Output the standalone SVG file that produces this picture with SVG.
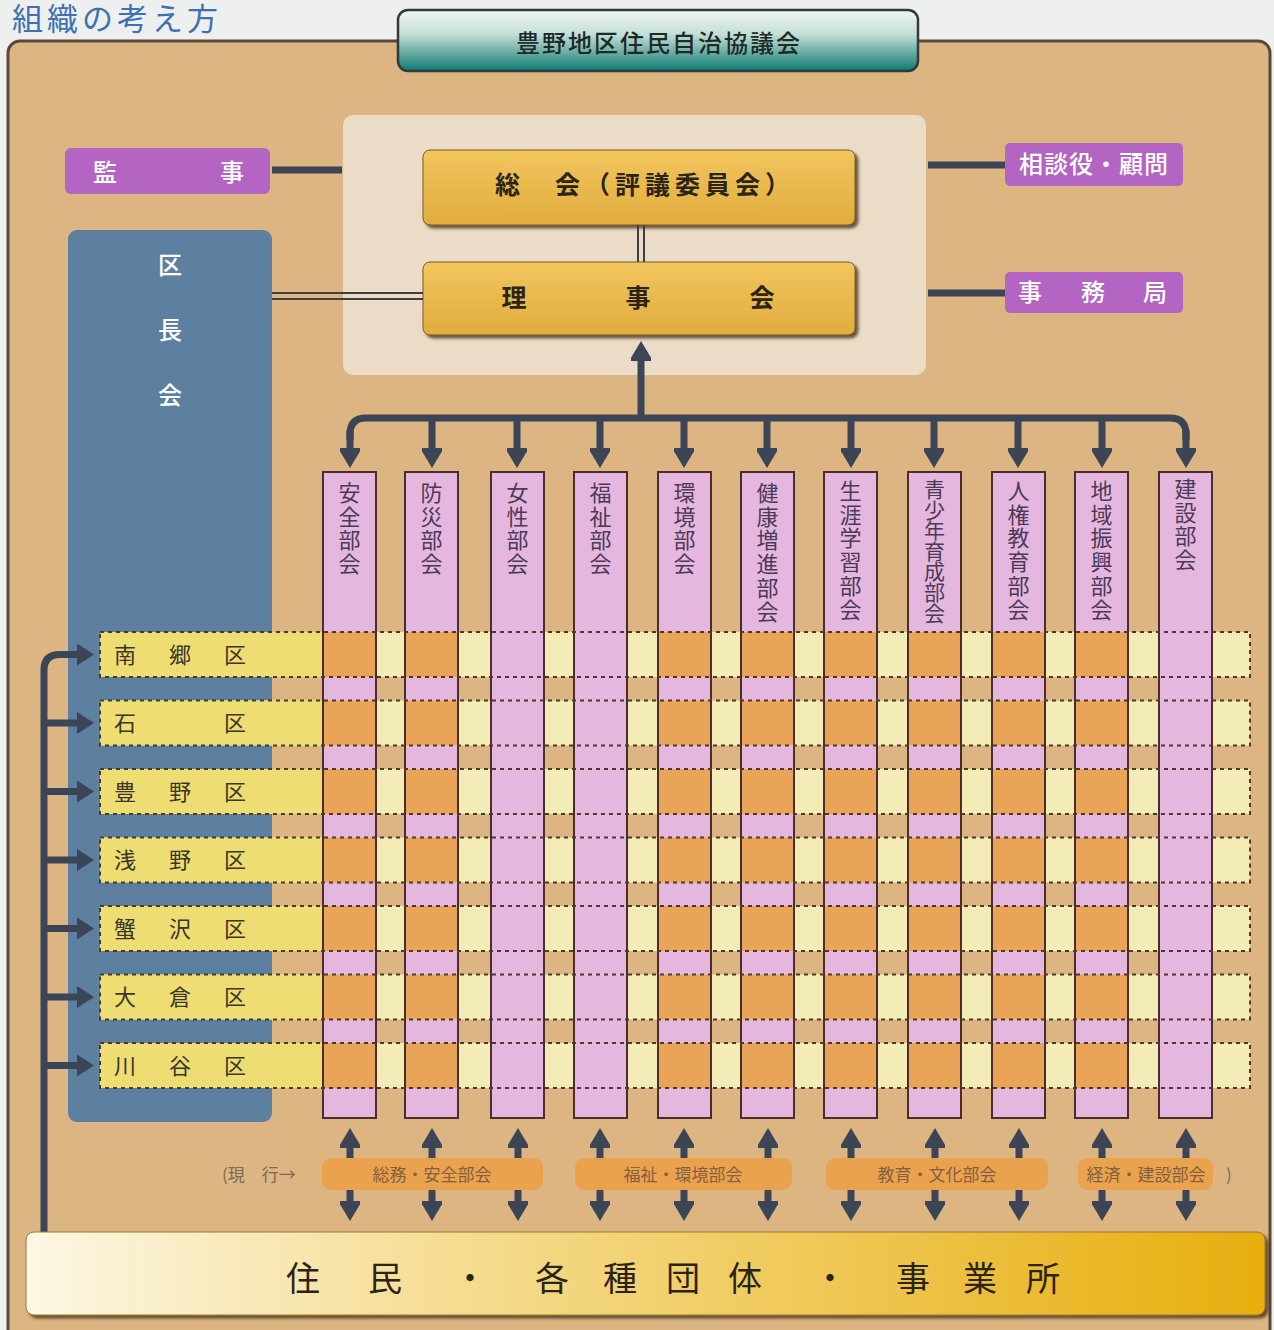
<svg xmlns="http://www.w3.org/2000/svg" width="1274" height="1330" viewBox="0 0 1274 1330">
<defs>
<style>
text{font-family:"Noto Sans CJK JP","Noto Sans CJK SC",sans-serif;}
.conn{stroke:#3b4556;fill:none;stroke-width:7;}
.dbl{stroke:#3e3e44;stroke-width:2;fill:none;}
.gold{fill:url(#goldg);stroke:#7a5a20;stroke-width:1;}
.purp{fill:#b464c3;}
.wt{fill:#ffffff;font-size:24px;font-weight:500;}
.bt{fill:#2b2418;font-size:25px;font-weight:700;}
.col{fill:#e6b7de;stroke:#4a2e2e;stroke-width:2;}
.colo{fill:none;stroke:#4a2e2e;stroke-width:2;}
.ct{fill:#4b3a58;font-size:22px;text-anchor:middle;}
.rowy{fill:#f3ecb6;}
.rowl{fill:#eedd72;}
.dash{fill:none;stroke:#4a3a2c;stroke-width:2;stroke-dasharray:4 4;}
.org{fill:#e9a458;}
.pk{fill:#e6b7de;}
.rt{fill:#3a362a;font-size:22px;text-anchor:middle;}
.pill{fill:#eba24f;}
.pt{fill:#84603f;font-size:17px;text-anchor:middle;}
</style>
<linearGradient id="goldg" x1="0" y1="0" x2="0" y2="1"><stop offset="0" stop-color="#f1c55e"/><stop offset="1" stop-color="#e2ac3e"/></linearGradient>
<linearGradient id="tealg" x1="0" y1="0" x2="0" y2="1"><stop offset="0" stop-color="#f2f6f3"/><stop offset="0.4" stop-color="#c4ded7"/><stop offset="1" stop-color="#0c7a70"/></linearGradient>
<linearGradient id="barg" x1="0" y1="0" x2="1" y2="0"><stop offset="0" stop-color="#fcf7e4"/><stop offset="0.35" stop-color="#f5dc90"/><stop offset="1" stop-color="#e8ae0e"/></linearGradient>
<filter id="sh" x="-5%" y="-20%" width="110%" height="150%"><feDropShadow dx="3" dy="3" stdDeviation="1.5" flood-color="#3a2a10" flood-opacity="0.75"/></filter>
<marker id="ah" viewBox="0 0 24 20" refX="3" refY="10" markerWidth="24" markerHeight="20" markerUnits="userSpaceOnUse" orient="auto"><path d="M0,-2 L20,10 L0,22 Z" fill="#3b4556"/></marker>
<marker id="ahs" viewBox="0 0 18 22" refX="3" refY="11" markerWidth="18" markerHeight="22" markerUnits="userSpaceOnUse" orient="auto"><path d="M0,0 L17,11 L0,22 Z" fill="#3b4556"/></marker>
<g id="rowband">
<rect x="100" y="0" width="1150" height="45" class="rowy"/>
<rect x="100" y="0" width="223" height="45" class="rowl"/>
<rect x="323" y="0" width="53" height="45" class="org"/>
<rect x="405" y="0" width="53" height="45" class="org"/>
<rect x="491" y="0" width="53" height="45" class="pk"/>
<rect x="574" y="0" width="53" height="45" class="pk"/>
<rect x="658" y="0" width="53" height="45" class="org"/>
<rect x="741" y="0" width="53" height="45" class="org"/>
<rect x="824" y="0" width="53" height="45" class="org"/>
<rect x="908" y="0" width="53" height="45" class="org"/>
<rect x="992" y="0" width="53" height="45" class="org"/>
<rect x="1075" y="0" width="53" height="45" class="org"/>
<rect x="1159" y="0" width="53" height="45" class="pk"/>
</g>
</defs>

<rect x="0" y="0" width="1274" height="1330" fill="#eef0ef"/>
<text x="12" y="30" font-size="31" fill="#3f70b3" letter-spacing="4">組織の考え方</text>

<rect x="8" y="41" width="1262" height="1310" rx="12" fill="#dcb583" stroke="#5a4838" stroke-width="3"/>

<g id="top">
<rect x="398" y="10" width="520" height="61" rx="10" fill="url(#tealg)" stroke="#33393a" stroke-width="2.5"/>
<text x="659" y="52" font-size="24" fill="#1e2a27" font-weight="500" text-anchor="middle" letter-spacing="2">豊野地区住民自治協議会</text>
</g>

<rect x="343" y="115" width="583" height="260" rx="10" fill="#ebdcc8"/>

<g id="soukai"><rect x="423" y="150" width="432" height="75" rx="7" class="gold" filter="url(#sh)"/>
<text x="495" y="194" class="bt" letter-spacing="5">総　会（評議委員会）</text></g>
<g id="rijikai"><rect x="423" y="262" width="432" height="73" rx="7" class="gold" filter="url(#sh)"/>
<text x="514 638 762" y="307" class="bt" text-anchor="middle">理事会</text></g>

<g id="kanji"><rect x="65" y="148" width="205" height="46" rx="6" class="purp"/>
<text x="105 232" y="181" class="wt" text-anchor="middle">監事</text></g>
<g id="soudan"><rect x="1005" y="143" width="178" height="43" rx="5" class="purp"/>
<text x="1094" y="173" class="wt" text-anchor="middle" letter-spacing="1">相談役・顧問</text></g>
<g id="jimukyoku"><rect x="1005" y="272" width="178" height="41" rx="5" class="purp"/>
<text x="1030 1093 1155" y="301" class="wt" text-anchor="middle">事務局</text></g>

<g id="kuchoukai"><rect x="68" y="230" width="204" height="892" rx="9" fill="#5d7fa0"/>
<text x="170" y="274" class="wt" text-anchor="middle">区</text>
<text x="170" y="339" class="wt" text-anchor="middle">長</text>
<text x="170" y="404" class="wt" text-anchor="middle">会</text></g>

<g id="columns">
<rect x="323" y="472" width="53" height="646" class="col"/>
<rect x="405" y="472" width="53" height="646" class="col"/>
<rect x="491" y="472" width="53" height="646" class="col"/>
<rect x="574" y="472" width="53" height="646" class="col"/>
<rect x="658" y="472" width="53" height="646" class="col"/>
<rect x="741" y="472" width="53" height="646" class="col"/>
<rect x="824" y="472" width="53" height="646" class="col"/>
<rect x="908" y="472" width="53" height="646" class="col"/>
<rect x="992" y="472" width="53" height="646" class="col"/>
<rect x="1075" y="472" width="53" height="646" class="col"/>
<rect x="1159" y="472" width="53" height="646" class="col"/>
<text class="ct" x="349.5 349.5 349.5 349.5" y="501 524.7 548.4 572.1">安全部会</text>
<text class="ct" x="431.5 431.5 431.5 431.5" y="501 524.7 548.4 572.1">防災部会</text>
<text class="ct" x="517.5 517.5 517.5 517.5" y="501 524.7 548.4 572.1">女性部会</text>
<text class="ct" x="600.5 600.5 600.5 600.5" y="501 524.7 548.4 572.1">福祉部会</text>
<text class="ct" x="684.5 684.5 684.5 684.5" y="501 524.7 548.4 572.1">環境部会</text>
<text class="ct" x="767.5 767.5 767.5 767.5 767.5 767.5" y="501 524.7 548.4 572.1 595.8 619.5">健康増進部会</text>
<text class="ct" x="850.5 850.5 850.5 850.5 850.5 850.5" y="499 522.7 546.4 570.1 593.8 617.5">生涯学習部会</text>
<text class="ct" x="934.5 934.5 934.5 934.5 934.5 934.5 934.5" y="497 517.6 538.2 558.8 579.4 600 620.6" style="font-size:21px">青少年育成部会</text>
<text class="ct" x="1018.5 1018.5 1018.5 1018.5 1018.5 1018.5" y="499 522.7 546.4 570.1 593.8 617.5">人権教育部会</text>
<text class="ct" x="1101.5 1101.5 1101.5 1101.5 1101.5 1101.5" y="499 522.7 546.4 570.1 593.8 617.5">地域振興部会</text>
<text class="ct" x="1185.5 1185.5 1185.5 1185.5" y="497 520.7 544.4 568.1">建設部会</text>
</g>

<g id="rows">
<use href="#rowband" y="632"/>
<use href="#rowband" y="700.5"/>
<use href="#rowband" y="769"/>
<use href="#rowband" y="837.5"/>
<use href="#rowband" y="906"/>
<use href="#rowband" y="974.5"/>
<use href="#rowband" y="1043"/>
</g>

<g id="column-outlines">
<rect x="323" y="472" width="53" height="646" class="colo"/>
<rect x="405" y="472" width="53" height="646" class="colo"/>
<rect x="491" y="472" width="53" height="646" class="colo"/>
<rect x="574" y="472" width="53" height="646" class="colo"/>
<rect x="658" y="472" width="53" height="646" class="colo"/>
<rect x="741" y="472" width="53" height="646" class="colo"/>
<rect x="824" y="472" width="53" height="646" class="colo"/>
<rect x="908" y="472" width="53" height="646" class="colo"/>
<rect x="992" y="472" width="53" height="646" class="colo"/>
<rect x="1075" y="472" width="53" height="646" class="colo"/>
<rect x="1159" y="472" width="53" height="646" class="colo"/>
</g>

<g id="row-borders">
<rect x="100" y="632" width="1150" height="45" class="dash"/>
<rect x="100" y="700.5" width="1150" height="45" class="dash"/>
<rect x="100" y="769" width="1150" height="45" class="dash"/>
<rect x="100" y="837.5" width="1150" height="45" class="dash"/>
<rect x="100" y="906" width="1150" height="45" class="dash"/>
<rect x="100" y="974.5" width="1150" height="45" class="dash"/>
<rect x="100" y="1043" width="1150" height="45" class="dash"/>
</g>

<g id="row-labels">
<text class="rt" x="125 180 235" y="663">南郷区</text>
<text class="rt" x="125 235" y="731">石区</text>
<text class="rt" x="125 180 235" y="800">豊野区</text>
<text class="rt" x="125 180 235" y="868">浅野区</text>
<text class="rt" x="125 180 235" y="937">蟹沢区</text>
<text class="rt" x="125 180 235" y="1005">大倉区</text>
<text class="rt" x="125 180 235" y="1074">川谷区</text>
</g>

<g id="connectors">
<line x1="272" y1="170" x2="342" y2="170" class="conn"/>
<line x1="928" y1="165" x2="1005" y2="165" class="conn"/>
<line x1="928" y1="293" x2="1005" y2="293" class="conn"/>
<line x1="272" y1="293" x2="423" y2="293" class="dbl"/>
<line x1="272" y1="299" x2="423" y2="299" class="dbl"/>
<line x1="638" y1="225" x2="638" y2="262" class="dbl"/>
<line x1="644" y1="225" x2="644" y2="262" class="dbl"/>
<line x1="641" y1="418" x2="641" y2="358" class="conn" marker-end="url(#ah)"/>
<path d="M350,440 V434 Q350,418 366,418 H1170 Q1186,418 1186,434 V440" class="conn"/>
<line x1="350" y1="430" x2="350" y2="451" class="conn" marker-end="url(#ah)"/>
<line x1="432" y1="418" x2="432" y2="451" class="conn" marker-end="url(#ah)"/>
<line x1="517" y1="418" x2="517" y2="451" class="conn" marker-end="url(#ah)"/>
<line x1="600" y1="418" x2="600" y2="451" class="conn" marker-end="url(#ah)"/>
<line x1="684" y1="418" x2="684" y2="451" class="conn" marker-end="url(#ah)"/>
<line x1="767" y1="418" x2="767" y2="451" class="conn" marker-end="url(#ah)"/>
<line x1="851" y1="418" x2="851" y2="451" class="conn" marker-end="url(#ah)"/>
<line x1="934" y1="418" x2="934" y2="451" class="conn" marker-end="url(#ah)"/>
<line x1="1018" y1="418" x2="1018" y2="451" class="conn" marker-end="url(#ah)"/>
<line x1="1102" y1="418" x2="1102" y2="451" class="conn" marker-end="url(#ah)"/>
<line x1="1186" y1="430" x2="1186" y2="451" class="conn" marker-end="url(#ah)"/>
<path d="M44,1232 V670 Q44,654.5 60,654.5 H80" class="conn" marker-end="url(#ahs)"/>
<line x1="44" y1="723" x2="80" y2="723" class="conn" marker-end="url(#ahs)"/>
<line x1="44" y1="791.5" x2="80" y2="791.5" class="conn" marker-end="url(#ahs)"/>
<line x1="44" y1="860" x2="80" y2="860" class="conn" marker-end="url(#ahs)"/>
<line x1="44" y1="928.5" x2="80" y2="928.5" class="conn" marker-end="url(#ahs)"/>
<line x1="44" y1="997" x2="80" y2="997" class="conn" marker-end="url(#ahs)"/>
<line x1="44" y1="1065.5" x2="80" y2="1065.5" class="conn" marker-end="url(#ahs)"/>
<g id="bottom-arrows">
<line x1="350" y1="1162" x2="350" y2="1145" class="conn" marker-end="url(#ah)"/><line x1="350" y1="1188" x2="350" y2="1204" class="conn" marker-end="url(#ah)"/>
<line x1="432" y1="1162" x2="432" y2="1145" class="conn" marker-end="url(#ah)"/><line x1="432" y1="1188" x2="432" y2="1204" class="conn" marker-end="url(#ah)"/>
<line x1="518" y1="1162" x2="518" y2="1145" class="conn" marker-end="url(#ah)"/><line x1="518" y1="1188" x2="518" y2="1204" class="conn" marker-end="url(#ah)"/>
<line x1="600" y1="1162" x2="600" y2="1145" class="conn" marker-end="url(#ah)"/><line x1="600" y1="1188" x2="600" y2="1204" class="conn" marker-end="url(#ah)"/>
<line x1="684" y1="1162" x2="684" y2="1145" class="conn" marker-end="url(#ah)"/><line x1="684" y1="1188" x2="684" y2="1204" class="conn" marker-end="url(#ah)"/>
<line x1="768" y1="1162" x2="768" y2="1145" class="conn" marker-end="url(#ah)"/><line x1="768" y1="1188" x2="768" y2="1204" class="conn" marker-end="url(#ah)"/>
<line x1="851" y1="1162" x2="851" y2="1145" class="conn" marker-end="url(#ah)"/><line x1="851" y1="1188" x2="851" y2="1204" class="conn" marker-end="url(#ah)"/>
<line x1="935" y1="1162" x2="935" y2="1145" class="conn" marker-end="url(#ah)"/><line x1="935" y1="1188" x2="935" y2="1204" class="conn" marker-end="url(#ah)"/>
<line x1="1019" y1="1162" x2="1019" y2="1145" class="conn" marker-end="url(#ah)"/><line x1="1019" y1="1188" x2="1019" y2="1204" class="conn" marker-end="url(#ah)"/>
<line x1="1102" y1="1162" x2="1102" y2="1145" class="conn" marker-end="url(#ah)"/><line x1="1102" y1="1188" x2="1102" y2="1204" class="conn" marker-end="url(#ah)"/>
<line x1="1186" y1="1162" x2="1186" y2="1145" class="conn" marker-end="url(#ah)"/><line x1="1186" y1="1188" x2="1186" y2="1204" class="conn" marker-end="url(#ah)"/>
</g>
</g>

<g id="current">
<text x="222" y="1181" font-size="17" fill="#7a6a58">(現　行→</text>
<rect x="322" y="1158" width="221" height="32" rx="9" class="pill"/>
<text x="432" y="1181" class="pt">総務・安全部会</text>
<rect x="575" y="1158" width="217" height="32" rx="9" class="pill"/>
<text x="683" y="1181" class="pt">福祉・環境部会</text>
<rect x="826" y="1158" width="222" height="32" rx="9" class="pill"/>
<text x="937" y="1181" class="pt">教育・文化部会</text>
<rect x="1078" y="1158" width="135" height="32" rx="9" class="pill"/>
<text x="1146" y="1181" class="pt">経済・建設部会</text>
<text x="1226" y="1181" font-size="17" fill="#7a6a58">)</text>
</g>

<g id="residents">
<rect x="26" y="1232" width="1239" height="83" rx="8" fill="url(#barg)" stroke="#9a7a30" stroke-width="1" filter="url(#sh)"/>
<text x="303 385 470 552 620 683 745 830 913 980 1043" y="1291" font-size="34" fill="#2a2418" text-anchor="middle">住民・各種団体・事業所</text>
</g>
</svg>
